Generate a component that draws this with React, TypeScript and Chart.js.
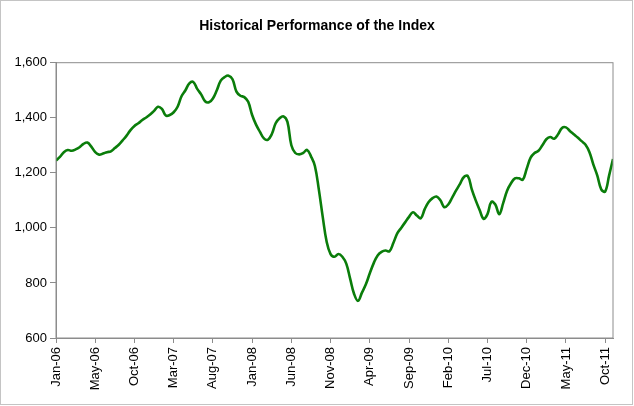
import React, { useEffect, useRef } from "react";
import { Chart, registerables } from "chart.js";

Chart.register(...registerables);

const TITLE = "Historical Performance of the Index";

// Half-month sample positions (index 0..142); tick labels every 10 positions
const tickLabels = [
  "Jan-06", "May-06", "Oct-06", "Mar-07", "Aug-07", "Jan-08", "Jun-08", "Nov-08",
  "Apr-09", "Sep-09", "Feb-10", "Jul-10", "Dec-10", "May-11", "Oct-11",
];

const indexValues = [
  1245, 1258, 1275, 1283, 1280, 1285, 1293, 1305, 1310, 1295,
  1275, 1266, 1270, 1275, 1278, 1290, 1302, 1318, 1335, 1355,
  1370, 1380, 1392, 1401, 1412, 1425, 1440, 1432, 1408, 1410,
  1420, 1440, 1478, 1500, 1525, 1530, 1505, 1485, 1460, 1456,
  1470, 1500, 1535, 1548, 1553, 1540, 1495, 1480, 1475, 1458,
  1410, 1375, 1349, 1325, 1320, 1340, 1380, 1398, 1405, 1385,
  1300, 1272, 1267, 1272, 1283, 1260, 1225, 1140, 1040, 950,
  905, 895, 905, 895, 870, 815, 760, 735, 765, 795,
  835, 872, 900, 913, 918, 915, 945, 980, 1000, 1020,
  1040, 1057, 1045, 1035, 1068, 1094, 1108, 1114, 1100, 1075,
  1085, 1110, 1136, 1160, 1185, 1188, 1140, 1100, 1065, 1033,
  1050, 1095, 1085, 1050, 1090, 1135, 1162, 1180, 1180, 1175,
  1215, 1255, 1272, 1280, 1300, 1322, 1330, 1324, 1340, 1363,
  1365, 1352, 1340, 1328, 1315, 1302, 1275, 1230, 1190, 1140,
  1132, 1190, 1250,
];

const TICK_EVERY = 10;
const FONT = "Arial, 'Liberation Sans', sans-serif";
const AXIS_GREY = "#8c8c8c";

const plotBorder = {
  id: "plotBorder",
  afterDraw(chart: any) {
    const { ctx, chartArea } = chart;
    ctx.save();
    ctx.strokeStyle = AXIS_GREY;
    ctx.lineWidth = 1;
    ctx.strokeRect(chartArea.left, chartArea.top, chartArea.right - chartArea.left, chartArea.bottom - chartArea.top);
    ctx.restore();
  },
};

export default function App() {
  const canvasRef = useRef<HTMLCanvasElement | null>(null);

  useEffect(() => {
    document.body.style.margin = "0";
    const canvas = canvasRef.current;
    if (!canvas) return;
    const chart = new Chart(canvas, {
      type: "line",
      data: {
        datasets: [
          {
            label: "Index",
            data: indexValues.map((v, i) => ({ x: i, y: v })),
            borderColor: "#0a7d0a",
            borderWidth: 2.6,
            pointRadius: 0,
            tension: 0.4,
            fill: false,
            yAxisID: "y",
          },
        ],
      },
      options: {
        animation: false,
        responsive: true,
        maintainAspectRatio: false,
        layout: { padding: 0 },
        plugins: {
          legend: { display: false },
          tooltip: { enabled: false },
          title: {
            display: true,
            text: TITLE,
            color: "#000",
            font: { family: FONT, size: 14, weight: "bold" },
            padding: { top: 17.5, bottom: 28.4 },
          },
        },
        scales: {
          x: {
            type: "linear",
            min: 0,
            max: indexValues.length - 1,
            afterBuildTicks: (scale: any) => {
              scale.ticks = tickLabels.map((_, k) => ({ value: k * TICK_EVERY }));
            },
            afterFit: (scale: any) => {
              scale.height = 68;
            },
            ticks: {
              autoSkip: false,
              minRotation: 90,
              maxRotation: 90,
              padding: 4,
              color: "#000",
              font: { family: FONT, size: 13 },
              callback: (value: any) => tickLabels[Math.round(Number(value) / TICK_EVERY)] ?? "",
            },
            grid: {
              drawOnChartArea: false,
              drawTicks: true,
              tickLength: 5,
              color: AXIS_GREY,
            },
            border: { display: true, color: AXIS_GREY },
          },
          y: {
            min: 600,
            max: 1600,
            afterFit: (scale: any) => {
              scale.width = 56;
            },
            ticks: {
              stepSize: 200,
              padding: 3,
              color: "#000",
              font: { family: FONT, size: 13 },
              callback: (value: any) => Number(value).toLocaleString("en-US"),
            },
            grid: {
              drawOnChartArea: false,
              drawTicks: true,
              tickLength: 6,
              color: AXIS_GREY,
            },
            border: { display: true, color: AXIS_GREY },
          },
          yRight: {
            position: "right",
            min: 600,
            max: 1600,
            afterFit: (scale: any) => {
              scale.width = 21;
            },
            ticks: { display: false },
            grid: { display: false },
            border: { display: false },
          },
        },
      },
      plugins: [plotBorder],
    });
    return () => chart.destroy();
  }, []);

  return (
    <div style={{ position: "fixed", left: 0, top: 0, width: 634, height: 406, background: "#fff" }}>
      <canvas ref={canvasRef} />
      <div
        style={{
          position: "absolute",
          left: 0,
          top: 0,
          width: 633,
          height: 405,
          boxSizing: "border-box",
          border: "1px solid #c4c4c4",
          pointerEvents: "none",
        }}
      />
    </div>
  );
}
